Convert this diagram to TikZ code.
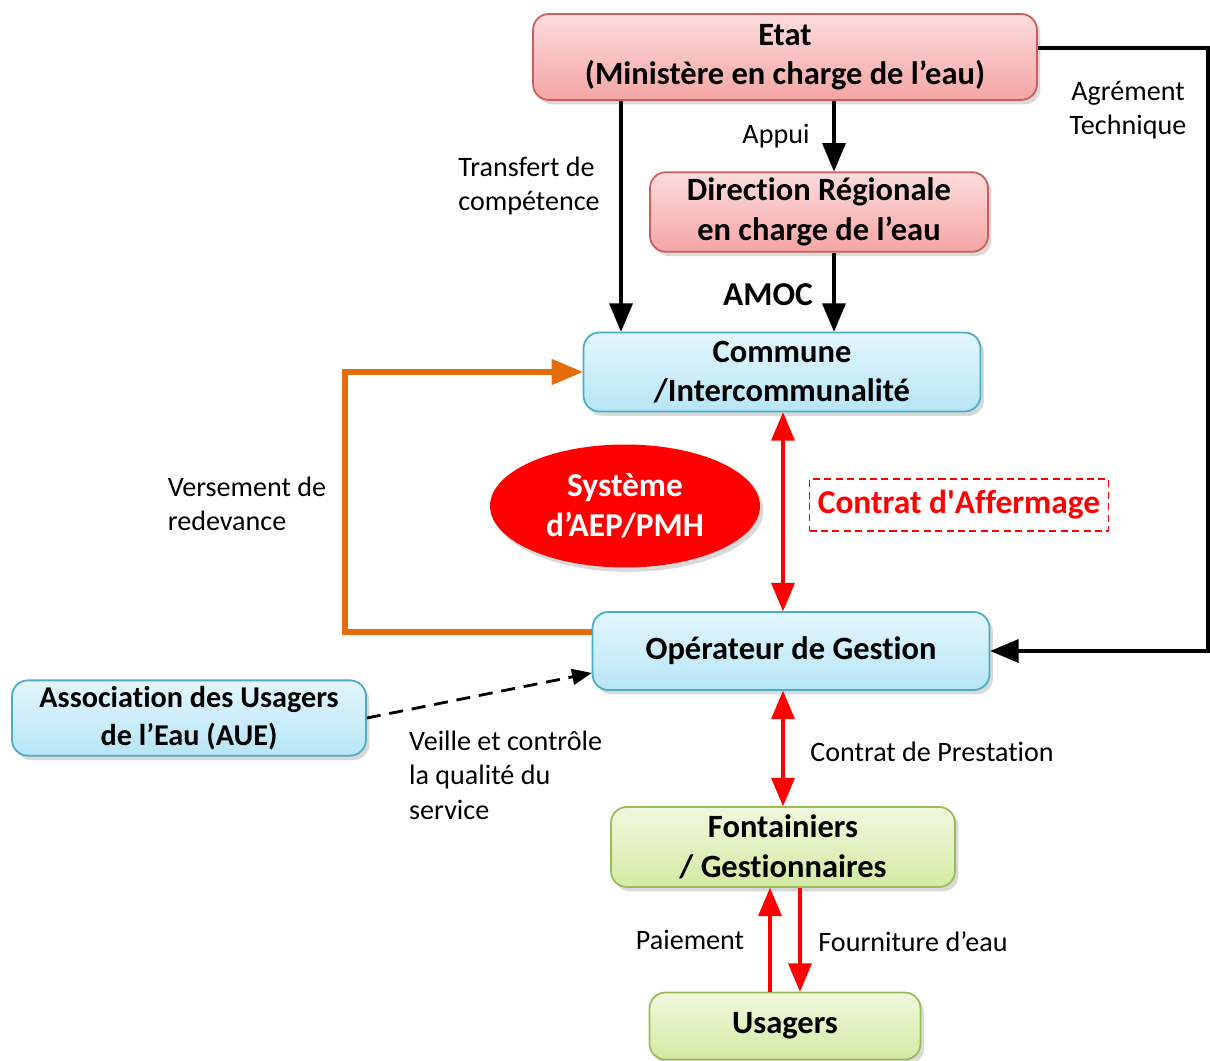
\documentclass[tikz,border=0pt]{standalone}
\usepackage{fontspec}
\setmainfont{Carlito}[Ligatures={TeX,NoCommon}]
\usetikzlibrary{arrows,positioning,shapes.geometric,shadows}

\definecolor{etatline}{RGB}{205,92,92}
\definecolor{etattop}{RGB}{252,220,220}
\definecolor{etatbot}{RGB}{245,165,165}
\definecolor{comline}{RGB}{75,172,198}
\definecolor{comtop}{RGB}{227,246,253}
\definecolor{combot}{RGB}{183,229,246}
\definecolor{fonline}{RGB}{155,187,89}
\definecolor{fontop}{RGB}{240,248,222}
\definecolor{fonbot}{RGB}{211,234,163}
\definecolor{redevance}{RGB}{228,108,10}

\begin{document}
\begin{tikzpicture}[x=0.02cm,y=-0.02cm,>=triangle 45,align=center,
	box/.style={draw,line width=1pt,rounded corners=9pt,
		drop shadow={shadow xshift=2pt,shadow yshift=-2.5pt,opacity=0.3},
		font=\bfseries\fontsize{18.5}{22.5}\selectfont},
	etatbox/.style={box,draw=etatline,top color=etattop,bottom color=etatbot},
	combox/.style={box,draw=comline,top color=comtop,bottom color=combot},
	fonbox/.style={box,draw=fonline,top color=fontop,bottom color=fonbot},
	lbl/.style={font=\fontsize{16}{19.5}\selectfont},
	blackarrow/.style={->,line width=2.8pt},
	redarrow/.style={line width=2.8pt,draw=red,fill=red},
	orangearrow/.style={->,line width=3.2pt,draw=redevance}]
	\useasboundingbox (0,0) rectangle (1210,1061);

	% colonnes et lignes des connecteurs
	\coordinate (colT) at (621,0);
	\coordinate (colA) at (834,0);
	\coordinate (colR) at (1208,0);
	\coordinate (colO) at (345,0);
	\coordinate (colM) at (783,0);
	\coordinate (colP) at (770,0);
	\coordinate (colF) at (800,0);
	\coordinate (rowE) at (0,48);
	\coordinate (rowO) at (0,632);
	\coordinate (rowD) at (0,673);

	% acteurs
	\node[etatbox,minimum width=10.08cm,minimum height=1.72cm] (etat) at (785,57) {Etat\\(Ministère en charge de l’eau)};
	\node[etatbox,minimum width=6.76cm,minimum height=1.58cm] (dr) at (819,212) {Direction Régionale\\en charge de l’eau};
	\node[combox,minimum width=7.94cm,minimum height=1.58cm] (commune) at (782,372) {Commune\\/Intercommunalité};
	\node[ellipse,fill=red,text=white,minimum width=5.4cm,minimum height=2.46cm,inner sep=1pt,
		drop shadow={shadow xshift=2pt,shadow yshift=-2.5pt,opacity=0.3},
		font=\bfseries\fontsize{19}{23}\selectfont] (aep) at (625,506) {Système\\d’AEP/PMH};
	\node[draw=red,dashed,line width=1pt,dash pattern=on 4pt off 2.5pt,text=red,
		minimum width=5.98cm,minimum height=1.04cm,inner sep=2pt,
		font=\bfseries\fontsize{19}{23}\selectfont] (affermage) at (959,505) {Contrat d\textquotesingle Affermage};
	\node[combox,minimum width=7.94cm,minimum height=1.56cm] (operateur) at (791,651) {Opérateur de Gestion};
	\node[combox,minimum width=7.08cm,minimum height=1.5cm,font=\bfseries\fontsize{17.2}{21.5}\selectfont] (aue) at (189,718) {Association des Usagers\\de l’Eau (AUE)};
	\node[fonbox,minimum width=6.88cm,minimum height=1.6cm] (fontainiers) at (783,847) {Fontainiers\\/ Gestionnaires};
	\node[fonbox,minimum width=5.42cm,minimum height=1.34cm] (usagers) at (785,1026) {Usagers};

	% textes
	\node[lbl,align=left] (transfert) at (529,186) {Transfert de\\compétence};
	\node[lbl] (appui) at (776,136) {Appui};
	\node[lbl,font=\bfseries\fontsize{19}{23}\selectfont] (amoc) at (768,295) {AMOC};
	\node[lbl] (agrement) at (1128,110) {Agrément\\Technique};
	\node[lbl,align=left] (versement) at (247,504) {Versement de\\redevance};
	\node[lbl,align=left,anchor=north west] (veille) at (403,725) {Veille et contrôle\\la qualité du\\service};
	\node[lbl] (prestation) at (932,752) {Contrat de Prestation};
	\node[lbl] (paiement) at (690,940) {Paiement};
	\node[lbl] (fourniture) at (913,942) {Fourniture d’eau};

	% connecteurs
	\draw[blackarrow] (etat.south -| colT) -- (commune.north -| colT);
	\draw[blackarrow] (etat.south -| colA) -- (dr.north -| colA);
	\draw[blackarrow] (dr.south -| colA) -- (commune.north -| colA);
	\draw[blackarrow] (etat.east |- rowE) -- (rowE -| colR) -- (operateur.east -| colR) -- (operateur.east);
	\draw[orangearrow] (operateur.west |- rowO) -- (rowO -| colO) |- (commune.west);
	\draw[redarrow,<->] (commune.south -| colM) -- (operateur.north -| colM);
	\draw[redarrow,<->] (operateur.south -| colM) -- (fontainiers.north -| colM);
	\draw[redarrow,->] (usagers.north -| colP) -- (fontainiers.south -| colP);
	\draw[redarrow,->] (fontainiers.south -| colF) -- (usagers.north -| colF);
	\draw[->,dashed,line width=1.6pt,dash pattern=on 8pt off 5pt] (aue.east) -- (operateur.west |- rowD);
\end{tikzpicture}
\end{document}
